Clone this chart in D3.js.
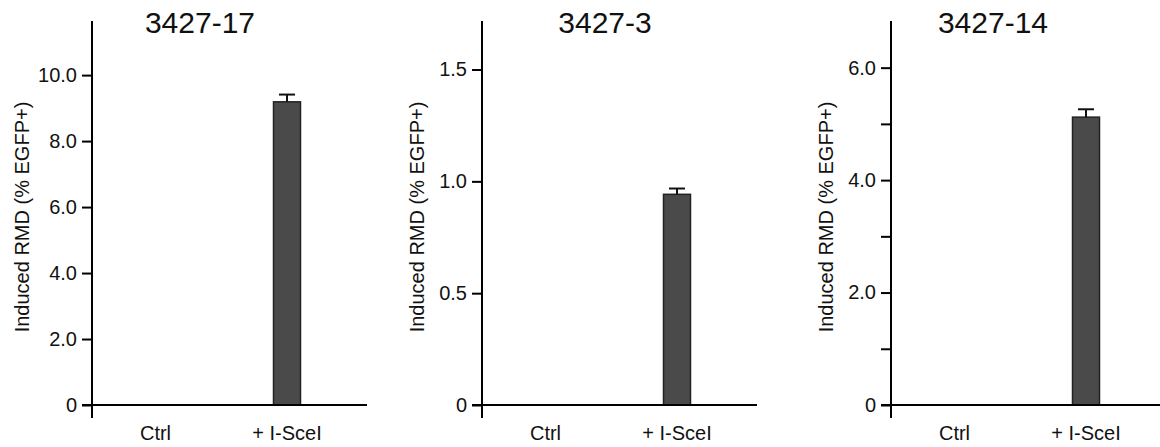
<!DOCTYPE html>
<html>
<head>
<meta charset="utf-8">
<script src="https://cdn.jsdelivr.net/npm/d3@7"></script>
<style>
  body { margin: 0; background: #fff; }
  svg { display: block; font-family: "Liberation Sans", Arial, sans-serif; }
</style>
</head>
<body>
<div id="chart"></div>
<script>
const width = 1160
const height = 447

// data
const titles = ["3427-17", "3427-3", "3427-14"]
const categories = ["Ctrl", "+ I-SceI"]
const means = [[0, 9.19], [0, 0.942], [0, 5.12]]
const errors = [[0, 0.22], [0, 0.026], [0, 0.14]]
const yMax = [11.64, 1.717, 6.83]
const tickValues = [[0, 2, 4, 6, 8, 10], [0, 0.5, 1.0, 1.5], [0, 1, 2, 3, 4, 5, 6]]
const yLabel = "Induced RMD (% EGFP+)"

// layout per panel (axis x, title x, y-label x)
const layout = [
    {axisX: 92, titleX: 200, labelX: 22},
    {axisX: 482, titleX: 605, labelX: 417},
    {axisX: 891, titleX: 993, labelX: 826}
]
const plotTop = 21
const zeroY = 405

const svg = d3.select("#chart").append("svg")
    .attr("width", width)
    .attr("height", height)

const fmt = v => v === 0 ? "0" : d3.format(".1f")(v)

titles.forEach((title, i) => {
    const L = layout[i]
    const g = svg.append("g").attr("class", "panel")

    const y = d3.scaleLinear()
        .domain([0, yMax[i]])
        .range([zeroY, plotTop])

    const x = d3.scalePoint()
        .domain(categories)
        .range([L.axisX + 63.5, L.axisX + 195])

    // y axis ticks
    const yAxis = d3.axisLeft(y)
        .tickValues(tickValues[i])
        .tickSize(10)
        .tickPadding(5)
        .tickFormat(d => (i === 2 && d % 2 === 1) ? "" : fmt(d))

    const ya = g.append("g")
        .attr("transform", `translate(${L.axisX},0)`)
        .call(yAxis)
    ya.select(".domain").remove()
    ya.selectAll("line").attr("stroke", "#000").attr("stroke-width", 2)
    ya.selectAll("text")
        .attr("font-size", 20)
        .attr("font-family", "Liberation Sans, Arial, sans-serif")
        .attr("fill", "#111")

    const rows = means[i].map((v, j) => ({cat: categories[j], v: v, e: errors[i][j]}))

    // bars
    g.selectAll(".bar")
        .data(rows.filter(d => d.v > 0))
        .join("rect")
        .attr("class", "bar")
        .attr("x", d => x(d.cat) - 13.5)
        .attr("width", 27)
        .attr("y", d => y(d.v))
        .attr("height", d => y(0) - y(d.v))
        .attr("fill", "#4a4a4a")
        .attr("stroke", "#222")
        .attr("stroke-width", 1.5)

    // error bars
    const eb = g.selectAll(".err")
        .data(rows.filter(d => d.e > 0))
        .join("g")
        .attr("class", "err")
    eb.append("line")
        .attr("x1", d => x(d.cat)).attr("x2", d => x(d.cat))
        .attr("y1", d => y(d.v)).attr("y2", d => y(d.v + d.e))
        .attr("stroke", "#111").attr("stroke-width", 2)
    eb.append("line")
        .attr("x1", d => x(d.cat) - 8).attr("x2", d => x(d.cat) + 8)
        .attr("y1", d => y(d.v + d.e)).attr("y2", d => y(d.v + d.e))
        .attr("stroke", "#111").attr("stroke-width", 2)

    // axis lines
    g.append("line")
        .attr("x1", L.axisX).attr("x2", L.axisX)
        .attr("y1", plotTop).attr("y2", zeroY + 13)
        .attr("stroke", "#000").attr("stroke-width", 2)
    g.append("line")
        .attr("x1", L.axisX - 10).attr("x2", Math.min(L.axisX + 275, width))
        .attr("y1", zeroY).attr("y2", zeroY)
        .attr("stroke", "#000").attr("stroke-width", 2)

    // category labels
    g.selectAll(".cat")
        .data(categories)
        .join("text")
        .attr("class", "cat")
        .attr("x", d => x(d))
        .attr("y", 440)
        .attr("text-anchor", "middle")
        .attr("font-size", 20)
        .attr("fill", "#111")
        .text(d => d)

    // title
    g.append("text")
        .attr("x", L.titleX)
        .attr("y", 33)
        .attr("text-anchor", "middle")
        .attr("font-size", 30)
        .attr("fill", "#111")
        .text(title)

    // y label
    g.append("text")
        .attr("transform", `translate(${L.labelX + 7},217) rotate(-90)`)
        .attr("text-anchor", "middle")
        .attr("font-size", 20)
        .attr("fill", "#111")
        .text(yLabel)
})
</script>
</body>
</html>
